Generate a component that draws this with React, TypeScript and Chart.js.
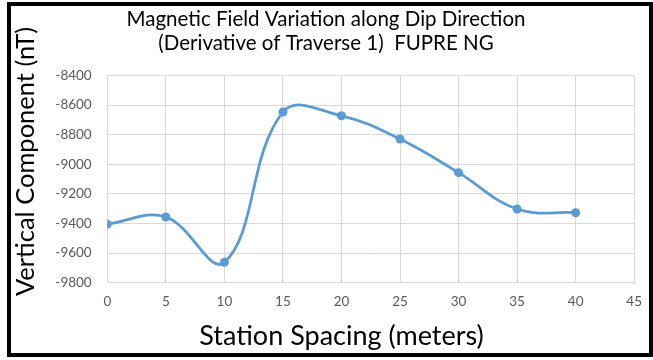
import React, { useEffect, useRef } from "react";
import { Chart, registerables } from "chart.js";

Chart.register(...registerables);

const titleLines = ["Magnetic Field Variation along Dip Direction", "(Derivative of Traverse 1)  FUPRE NG"];
const xAxisTitle = "Station Spacing (meters)";
const yAxisTitle = "Vertical Component (nT)";
const stations = [0, 5, 10, 15, 20, 25, 30, 35, 40];
const verticalComponent = [-9405, -9357, -9663, -8648, -8673, -8830, -9057, -9303, -9328];
const xTicks = { min: 0, max: 45, step: 5 };
const yTicks = { min: -9800, max: -8400, step: 200 };

const FONT = "Lato, 'Open Sans', sans-serif";

const axisTitlesPlugin = {
  id: "axisTitles",
  afterDraw(chart: any) {
    const ctx = chart.ctx;
    ctx.save();
    ctx.fillStyle = "#000000";
    ctx.textAlign = "center";
    ctx.textBaseline = "alphabetic";
    ctx.font = `27px ${FONT}`;
    ctx.fillText(xAxisTitle, 341.5, 345);
    ctx.font = `25.5px ${FONT}`;
    ctx.translate(34, 161.5);
    ctx.rotate(-Math.PI / 2);
    ctx.fillText(yAxisTitle, 0, 0);
    ctx.restore();
  },
};

export default function App() {
  const ref = useRef<HTMLCanvasElement | null>(null);
  useEffect(() => {
    if (!ref.current) return;
    const chart = new Chart(ref.current, {
      type: "line",
      data: {
        datasets: [
          {
            data: stations.map((s, i) => ({ x: s, y: verticalComponent[i] })),
            borderColor: "#5B9BD5",
            backgroundColor: "#5B9BD5",
            borderWidth: 2.75,
            pointRadius: 4.5,
            pointBorderWidth: 0,
            pointBackgroundColor: "#5B9BD5",
            tension: 0.4,
            fill: false,
          },
        ],
      },
      options: {
        responsive: false,
        animation: false,
        devicePixelRatio: 1,
        layout: { padding: { left: 17.3, right: 18.3, top: 0, bottom: 0 } },
        plugins: {
          legend: { display: false },
          tooltip: { enabled: false },
          title: {
            display: true,
            text: titleLines,
            color: "#000000",
            font: { family: FONT, size: 20.5, weight: "normal", lineHeight: 23.5 / 20.5 },
            padding: { top: 8, bottom: 20.4 },
          },
        },
        scales: {
          x: {
            type: "linear",
            min: xTicks.min,
            max: xTicks.max,
            afterFit(scale: any) {
              scale.height = 77.4;
            },
            ticks: {
              stepSize: xTicks.step,
              color: "#595959",
              font: { family: FONT, size: 13.5 },
              padding: 11,
              maxRotation: 0,
              callback: (v: any) => String(v),
            },
            grid: { color: "#d9d9d9", drawTicks: false, lineWidth: 1 },
            border: { color: "#d9d9d9" },
          },
          y: {
            type: "linear",
            min: yTicks.min,
            max: yTicks.max,
            afterFit(scale: any) {
              scale.width = 90;
            },
            ticks: {
              stepSize: yTicks.step,
              color: "#595959",
              font: { family: FONT, size: 13.5 },
              padding: 15.6,
              callback: (v: any) => String(v),
            },
            grid: { color: "#d9d9d9", drawTicks: false, lineWidth: 1 },
            border: { color: "#d9d9d9" },
          },
        },
      },
      plugins: [axisTitlesPlugin],
    });
    return () => chart.destroy();
  }, []);

  return (
    <div style={{ position: "fixed", left: 0, top: 0, width: 653, height: 360, background: "#ffffff" }}>
      <canvas ref={ref} width={653} height={360} style={{ position: "absolute", left: 0, top: 0, width: 653, height: 360 }} />
      <div
        style={{
          position: "absolute",
          left: 7,
          top: 2,
          width: 646,
          height: 355,
          border: "4px solid #000000",
          boxSizing: "border-box",
          pointerEvents: "none",
        }}
      />
    </div>
  );
}
